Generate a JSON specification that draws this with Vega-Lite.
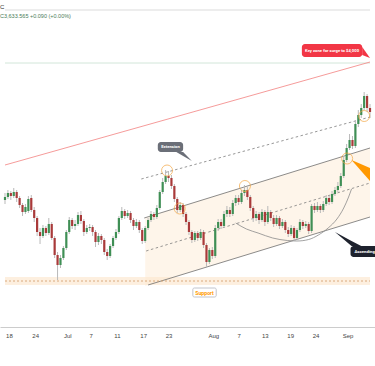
{
"$schema":"https://vega.github.io/schema/vega-lite/v6.json",
"width":375,"height":327,
"autosize":{"type":"none"},
"padding":{"left":0,"right":0,"top":0,"bottom":39},
"background":"white",
"config":{"view":{"stroke":null},"font":"Liberation Sans"},
"title":{"text":"C","subtitle":"C3,633.565  +0.090 (+0.00%)","anchor":"start","frame":"group","offset":-19,"fontSize":6,"fontWeight":"normal","color":"#333333","subtitleFontSize":5.5,"subtitleColor":"#4a7c59","subtitlePadding":4},
"datasets":{
"candles":[
{"t":0,"o":3454,"h":3468,"l":3446,"c":3460},{"t":1,"o":3460,"h":3474,"l":3456,"c":3468},{"t":2,"o":3468,"h":3472,"l":3454,"c":3462},{"t":3,"o":3462,"h":3478,"l":3458,"c":3470},{"t":4,"o":3470,"h":3474,"l":3450,"c":3458},{"t":5,"o":3458,"h":3462,"l":3438,"c":3444},{"t":6,"o":3444,"h":3448,"l":3422,"c":3430},{"t":7,"o":3430,"h":3446,"l":3426,"c":3440},{"t":8,"o":3432,"h":3462,"l":3428,"c":3456},{"t":9,"o":3458,"h":3464,"l":3430,"c":3434},
{"t":10,"o":3434,"h":3440,"l":3410,"c":3418},{"t":11,"o":3418,"h":3422,"l":3382,"c":3390},{"t":12,"o":3390,"h":3398,"l":3366,"c":3382},{"t":13,"o":3382,"h":3404,"l":3378,"c":3398},{"t":14,"o":3398,"h":3402,"l":3382,"c":3388},{"t":15,"o":3388,"h":3418,"l":3384,"c":3406},{"t":16,"o":3406,"h":3410,"l":3374,"c":3378},{"t":17,"o":3378,"h":3382,"l":3338,"c":3344},{"t":18,"o":3344,"h":3350,"l":3294,"c":3324},{"t":19,"o":3324,"h":3344,"l":3318,"c":3338},
{"t":20,"o":3338,"h":3362,"l":3334,"c":3358},{"t":21,"o":3358,"h":3394,"l":3354,"c":3390},{"t":22,"o":3390,"h":3420,"l":3386,"c":3414},{"t":23,"o":3414,"h":3418,"l":3396,"c":3402},{"t":24,"o":3402,"h":3414,"l":3394,"c":3406},{"t":25,"o":3406,"h":3430,"l":3402,"c":3424},{"t":26,"o":3424,"h":3432,"l":3406,"c":3412},{"t":27,"o":3412,"h":3416,"l":3382,"c":3390},{"t":28,"o":3390,"h":3404,"l":3386,"c":3398},{"t":29,"o":3398,"h":3406,"l":3392,"c":3400},
{"t":30,"o":3400,"h":3404,"l":3382,"c":3390},{"t":31,"o":3390,"h":3394,"l":3360,"c":3370},{"t":32,"o":3370,"h":3388,"l":3364,"c":3382},{"t":33,"o":3382,"h":3386,"l":3366,"c":3374},{"t":34,"o":3374,"h":3378,"l":3344,"c":3350},{"t":35,"o":3350,"h":3356,"l":3334,"c":3342},{"t":36,"o":3342,"h":3366,"l":3338,"c":3362},{"t":37,"o":3362,"h":3382,"l":3358,"c":3378},{"t":38,"o":3378,"h":3396,"l":3374,"c":3390},{"t":39,"o":3390,"h":3422,"l":3386,"c":3418},
{"t":40,"o":3418,"h":3440,"l":3414,"c":3432},{"t":41,"o":3432,"h":3436,"l":3416,"c":3422},{"t":42,"o":3422,"h":3434,"l":3418,"c":3428},{"t":43,"o":3428,"h":3432,"l":3408,"c":3414},{"t":44,"o":3414,"h":3418,"l":3394,"c":3402},{"t":45,"o":3402,"h":3416,"l":3398,"c":3410},{"t":46,"o":3410,"h":3414,"l":3388,"c":3394},{"t":47,"o":3394,"h":3398,"l":3366,"c":3372},{"t":48,"o":3372,"h":3402,"l":3368,"c":3398},{"t":49,"o":3398,"h":3418,"l":3394,"c":3414},
{"t":50,"o":3414,"h":3432,"l":3410,"c":3426},{"t":51,"o":3426,"h":3430,"l":3414,"c":3420},{"t":52,"o":3420,"h":3444,"l":3416,"c":3438},{"t":53,"o":3438,"h":3474,"l":3434,"c":3470},{"t":54,"o":3470,"h":3498,"l":3466,"c":3490},{"t":55,"o":3490,"h":3514,"l":3486,"c":3502},{"t":56,"o":3502,"h":3512,"l":3490,"c":3498},{"t":57,"o":3498,"h":3504,"l":3476,"c":3482},{"t":58,"o":3482,"h":3486,"l":3450,"c":3456},{"t":59,"o":3456,"h":3460,"l":3428,"c":3434},
{"t":60,"o":3434,"h":3450,"l":3430,"c":3444},{"t":61,"o":3444,"h":3448,"l":3420,"c":3426},{"t":62,"o":3426,"h":3430,"l":3404,"c":3410},{"t":63,"o":3410,"h":3414,"l":3384,"c":3390},{"t":64,"o":3390,"h":3394,"l":3368,"c":3374},{"t":65,"o":3374,"h":3392,"l":3370,"c":3388},{"t":66,"o":3388,"h":3392,"l":3372,"c":3378},{"t":67,"o":3378,"h":3396,"l":3374,"c":3390},{"t":68,"o":3390,"h":3394,"l":3358,"c":3364},{"t":69,"o":3364,"h":3368,"l":3320,"c":3330},
{"t":70,"o":3330,"h":3358,"l":3326,"c":3354},{"t":71,"o":3354,"h":3360,"l":3336,"c":3342},{"t":72,"o":3342,"h":3404,"l":3338,"c":3398},{"t":73,"o":3398,"h":3416,"l":3392,"c":3410},{"t":74,"o":3410,"h":3416,"l":3396,"c":3402},{"t":75,"o":3402,"h":3432,"l":3398,"c":3426},{"t":76,"o":3426,"h":3442,"l":3420,"c":3434},{"t":77,"o":3434,"h":3440,"l":3420,"c":3426},{"t":78,"o":3426,"h":3454,"l":3422,"c":3448},{"t":79,"o":3448,"h":3464,"l":3442,"c":3458},
{"t":80,"o":3458,"h":3464,"l":3444,"c":3450},{"t":81,"o":3450,"h":3474,"l":3446,"c":3468},{"t":82,"o":3468,"h":3484,"l":3462,"c":3474},{"t":83,"o":3474,"h":3480,"l":3454,"c":3460},{"t":84,"o":3460,"h":3464,"l":3432,"c":3438},{"t":85,"o":3438,"h":3442,"l":3410,"c":3418},{"t":86,"o":3418,"h":3432,"l":3412,"c":3426},{"t":87,"o":3426,"h":3430,"l":3406,"c":3414},{"t":88,"o":3414,"h":3436,"l":3410,"c":3430},{"t":89,"o":3430,"h":3434,"l":3402,"c":3410},
{"t":90,"o":3410,"h":3442,"l":3406,"c":3430},{"t":91,"o":3430,"h":3434,"l":3412,"c":3418},{"t":92,"o":3418,"h":3424,"l":3400,"c":3406},{"t":93,"o":3406,"h":3424,"l":3402,"c":3418},{"t":94,"o":3418,"h":3422,"l":3396,"c":3402},{"t":95,"o":3402,"h":3416,"l":3398,"c":3410},{"t":96,"o":3410,"h":3414,"l":3388,"c":3394},{"t":97,"o":3394,"h":3400,"l":3380,"c":3386},{"t":98,"o":3386,"h":3404,"l":3382,"c":3398},{"t":99,"o":3398,"h":3402,"l":3372,"c":3378},
{"t":100,"o":3378,"h":3398,"l":3374,"c":3394},{"t":101,"o":3394,"h":3416,"l":3390,"c":3410},{"t":102,"o":3410,"h":3414,"l":3396,"c":3402},{"t":103,"o":3402,"h":3412,"l":3398,"c":3406},{"t":104,"o":3406,"h":3410,"l":3386,"c":3392},{"t":105,"o":3392,"h":3446,"l":3388,"c":3442},{"t":106,"o":3442,"h":3448,"l":3428,"c":3434},{"t":107,"o":3434,"h":3450,"l":3430,"c":3442},{"t":108,"o":3442,"h":3446,"l":3428,"c":3434},{"t":109,"o":3434,"h":3452,"l":3430,"c":3446},
{"t":110,"o":3446,"h":3464,"l":3442,"c":3458},{"t":111,"o":3458,"h":3462,"l":3444,"c":3450},{"t":112,"o":3450,"h":3472,"l":3446,"c":3466},{"t":113,"o":3466,"h":3480,"l":3462,"c":3474},{"t":114,"o":3474,"h":3490,"l":3470,"c":3482},{"t":115,"o":3482,"h":3508,"l":3478,"c":3502},{"t":116,"o":3502,"h":3542,"l":3498,"c":3534},{"t":117,"o":3534,"h":3566,"l":3530,"c":3558},{"t":118,"o":3558,"h":3586,"l":3554,"c":3574},{"t":119,"o":3574,"h":3582,"l":3556,"c":3562},
{"t":120,"o":3562,"h":3614,"l":3558,"c":3606},{"t":121,"o":3606,"h":3634,"l":3600,"c":3624},{"t":122,"o":3624,"h":3646,"l":3618,"c":3638},{"t":123,"o":3638,"h":3670,"l":3634,"c":3662},{"t":124,"o":3662,"h":3666,"l":3630,"c":3638},{"t":125,"o":3638,"h":3646,"l":3618,"c":3630}
],
"lines":[
{"id":"top","t":0,"p":3834},{"id":"top","t":125,"p":3834},
{"id":"hz","t":0,"p":3728},{"id":"hz","t":125,"p":3728},
{"id":"red","t":0,"p":3524},{"id":"red","t":125,"p":3730},
{"id":"ext","t":46.67,"p":3496},{"id":"ext","t":125,"p":3620},
{"id":"up","t":47.67,"p":3418},{"id":"up","t":125,"p":3558},
{"id":"mid","t":48.33,"p":3352},{"id":"mid","t":125,"p":3488},
{"id":"low","t":49,"p":3284},{"id":"low","t":125,"p":3420},
{"id":"sup","t":0,"p":3292},{"id":"sup","t":125,"p":3292}
],
"zones":[
{"id":"band","t":0,"top":3300,"bot":3284},{"id":"band","t":125,"top":3300,"bot":3284},
{"id":"channel","t":48,"top":3419,"bot":3282},{"id":"channel","t":125,"top":3558,"bot":3420}
],
"cup":[
{"t":79,"p":3408},{"t":82.67,"p":3396},{"t":86.67,"p":3388},{"t":91.67,"p":3378},{"t":96.67,"p":3373},{"t":100,"p":3372},{"t":104,"p":3375},{"t":107.33,"p":3384},{"t":110.67,"p":3398},{"t":113.67,"p":3416},{"t":116,"p":3438},{"t":117.67,"p":3460},{"t":118.67,"p":3476}
],
"circles":[
{"t":55.5,"p":3513},{"t":59.83,"p":3437},{"t":82.17,"p":3482},{"t":117.17,"p":3537},{"t":123,"p":3622}
],
"wedges":[
{"id":"arrow","t":118.67,"top":3534,"bot":3534},{"id":"arrow","t":125,"top":3518,"bot":3492},
{"id":"ext","t":58.67,"top":3550,"bot":3550},{"id":"ext","t":61,"top":3550,"bot":3542},{"id":"ext","t":64,"top":3532,"bot":3532},
{"id":"key","t":122.33,"top":3760,"bot":3744},{"id":"key","t":125,"top":3738,"bot":3738},
{"id":"asc","t":113,"top":3390,"bot":3390},{"id":"asc","t":118.67,"top":3372,"bot":3362},{"id":"asc","t":122,"top":3362,"bot":3362}
],
"boxes":[
{"id":"key","t":101.67,"t2":122.33,"top":3766,"bot":3740},
{"id":"ext","t":52.33,"t2":61,"top":3570,"bot":3550},
{"id":"asc","t":118.33,"t2":130,"top":3362,"bot":3340},
{"id":"sup","t":64.33,"t2":72.33,"top":3278,"bot":3260}
],
"labels":[
{"id":"key","t":112,"p":3753,"text":"Key zone for surge to $4,000"},
{"id":"ext","t":56.67,"p":3560,"text":"Extension"},
{"id":"asc","t":119.67,"p":3351,"text":"Ascending channel"},
{"id":"sup","t":68.33,"p":3269,"text":"Support"}
]
},
"encoding":{"x":{"field":"t","type":"quantitative","scale":{"domain":[0,125],"nice":false,"zero":false},"axis":{"values":[1.33,10.33,21.33,29.33,38.33,47.33,56,71.33,80,89,97.67,106.33,117.33],"labelExpr":"datum.value < 5 ? '18' : datum.value < 15 ? '24' : datum.value < 25 ? 'Jul' : datum.value < 33 ? '7' : datum.value < 42 ? '11' : datum.value < 50 ? '17' : datum.value < 60 ? '23' : datum.value < 75 ? 'Aug' : datum.value < 85 ? '7' : datum.value < 93 ? '13' : datum.value < 100 ? '19' : datum.value < 110 ? '24' : 'Sep'","grid":false,"ticks":false,"domainColor":"#cccccc","labelFontSize":6,"labelColor":"#444444","labelFont":"Liberation Sans","labelPadding":5,"title":null,"labelFlush":false,"labelOverlap":false,"labelBound":false,"labelSeparation":0}}},
"layer":[
{"data":{"name":"zones"},"transform":[{"filter":"datum.id=='band'"}],"mark":{"type":"area","color":"#fbe2c4","opacity":0.55,"clip":true},"encoding":{"y":{"field":"top","type":"quantitative","scale":{"domain":[3200,3854],"nice":false,"zero":false},"axis":null},"y2":{"field":"bot"}}},
{"data":{"name":"zones"},"transform":[{"filter":"datum.id=='channel'"}],"mark":{"type":"area","color":"#fce8d0","opacity":0.45,"clip":true},"encoding":{"y":{"field":"top","type":"quantitative","axis":null},"y2":{"field":"bot"}}},
{"data":{"name":"lines"},"transform":[{"filter":"datum.id=='top'"}],"mark":{"type":"line","color":"#ededed","strokeWidth":2,"clip":true},"encoding":{"y":{"field":"p","type":"quantitative","axis":null}}},
{"data":{"name":"lines"},"transform":[{"filter":"datum.id=='hz'"}],"mark":{"type":"line","color":"#d2e6d9","strokeWidth":1,"clip":true},"encoding":{"y":{"field":"p","type":"quantitative","axis":null}}},
{"data":{"name":"lines"},"transform":[{"filter":"datum.id=='red'"}],"mark":{"type":"line","color":"#f4908f","strokeWidth":0.9,"clip":true},"encoding":{"y":{"field":"p","type":"quantitative","axis":null}}},
{"data":{"name":"lines"},"transform":[{"filter":"datum.id=='ext' || datum.id=='mid'"}],"mark":{"type":"line","color":"#7d7d7d","strokeWidth":0.8,"strokeDash":[2.5,2.5],"clip":true},"encoding":{"y":{"field":"p","type":"quantitative","axis":null},"detail":{"field":"id"}}},
{"data":{"name":"lines"},"transform":[{"filter":"datum.id=='up' || datum.id=='low'"}],"mark":{"type":"line","color":"#6f6f6f","strokeWidth":0.8,"clip":true},"encoding":{"y":{"field":"p","type":"quantitative","axis":null},"detail":{"field":"id"}}},
{"data":{"name":"lines"},"transform":[{"filter":"datum.id=='sup'"}],"mark":{"type":"line","color":"#d19a66","strokeWidth":0.8,"strokeDash":[2,2],"clip":true},"encoding":{"y":{"field":"p","type":"quantitative","axis":null}}},
{"data":{"name":"cup"},"mark":{"type":"line","color":"#8a8a8a","strokeWidth":0.8,"interpolate":"monotone","clip":true},"encoding":{"y":{"field":"p","type":"quantitative","axis":null}}},
{"data":{"name":"candles"},"mark":{"type":"rule","color":"#b9b9b9","strokeWidth":1,"clip":true},"encoding":{"y":{"field":"l","type":"quantitative","axis":null},"y2":{"field":"h"}}},
{"data":{"name":"candles"},"mark":{"type":"bar","width":2.2,"clip":true},"encoding":{"y":{"field":"o","type":"quantitative","axis":null},"y2":{"field":"c"},"color":{"condition":{"test":"datum.c >= datum.o","value":"#3f8f55"},"value":"#a93a3a"}}},
{"data":{"name":"circles"},"mark":{"type":"point","shape":"circle","filled":false,"size":121,"stroke":"#f5a742","strokeWidth":1,"clip":true},"encoding":{"y":{"field":"p","type":"quantitative","axis":null}}},
{"data":{"name":"wedges"},"transform":[{"filter":"datum.id=='arrow'"}],"mark":{"type":"area","color":"#ff9800","clip":true},"encoding":{"y":{"field":"top","type":"quantitative","axis":null},"y2":{"field":"bot"}}},
{"data":{"name":"wedges"},"transform":[{"filter":"datum.id=='ext'"}],"mark":{"type":"area","color":"#6b6f78","clip":true},"encoding":{"y":{"field":"top","type":"quantitative","axis":null},"y2":{"field":"bot"}}},
{"data":{"name":"wedges"},"transform":[{"filter":"datum.id=='key'"}],"mark":{"type":"area","color":"#f23645","clip":true},"encoding":{"y":{"field":"top","type":"quantitative","axis":null},"y2":{"field":"bot"}}},
{"data":{"name":"wedges"},"transform":[{"filter":"datum.id=='asc'"}],"mark":{"type":"area","color":"#1e222d","clip":true},"encoding":{"y":{"field":"top","type":"quantitative","axis":null},"y2":{"field":"bot"}}},
{"data":{"name":"boxes"},"transform":[{"filter":"datum.id=='key'"}],"mark":{"type":"rect","color":"#f23645","cornerRadius":3,"clip":true},"encoding":{"x2":{"field":"t2"},"y":{"field":"top","type":"quantitative","axis":null},"y2":{"field":"bot"}}},
{"data":{"name":"boxes"},"transform":[{"filter":"datum.id=='ext'"}],"mark":{"type":"rect","color":"#6b6f78","cornerRadius":3,"clip":true},"encoding":{"x2":{"field":"t2"},"y":{"field":"top","type":"quantitative","axis":null},"y2":{"field":"bot"}}},
{"data":{"name":"boxes"},"transform":[{"filter":"datum.id=='asc'"}],"mark":{"type":"rect","color":"#1e222d","cornerRadius":3,"clip":true},"encoding":{"x2":{"field":"t2"},"y":{"field":"top","type":"quantitative","axis":null},"y2":{"field":"bot"}}},
{"data":{"name":"boxes"},"transform":[{"filter":"datum.id=='sup'"}],"mark":{"type":"rect","fill":"#ffffff","stroke":"#b2b5be","strokeWidth":0.8,"cornerRadius":1.5,"clip":true},"encoding":{"x2":{"field":"t2"},"y":{"field":"top","type":"quantitative","axis":null},"y2":{"field":"bot"}}},
{"data":{"name":"labels"},"transform":[{"filter":"datum.id=='key' || datum.id=='ext'"}],"mark":{"type":"text","color":"#ffffff","fontSize":4.2,"fontWeight":"bold","font":"Roboto","align":"center","baseline":"middle","clip":true},"encoding":{"y":{"field":"p","type":"quantitative","axis":null},"text":{"field":"text"}}},
{"data":{"name":"labels"},"transform":[{"filter":"datum.id=='asc'"}],"mark":{"type":"text","color":"#ffffff","fontSize":4.3,"fontWeight":"bold","font":"Roboto","align":"left","baseline":"middle","clip":true},"encoding":{"y":{"field":"p","type":"quantitative","axis":null},"text":{"field":"text"}}},
{"data":{"name":"labels"},"transform":[{"filter":"datum.id=='sup'"}],"mark":{"type":"text","color":"#ff9800","fontSize":5.2,"fontWeight":"bold","font":"Roboto","align":"center","baseline":"middle","clip":true},"encoding":{"y":{"field":"p","type":"quantitative","axis":null},"text":{"field":"text"}}}
]
}
